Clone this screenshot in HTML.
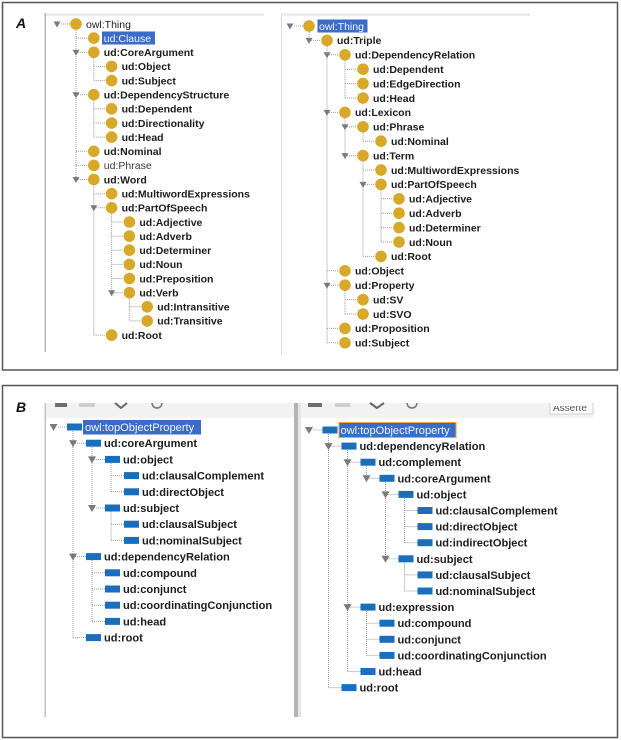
<!DOCTYPE html>
<html><head><meta charset="utf-8"><style>
html,body{margin:0;padding:0;background:#fff;}
svg{display:block;}
.t{font-family:"Liberation Sans",Arial,sans-serif;font-size:10.5px;font-weight:bold;fill:#1c1c1c;}
.n{font-weight:normal;}
.b{font-family:"Liberation Sans",Arial,sans-serif;font-size:11.1px;font-weight:bold;fill:#1c1c1c;}
.w{fill:#f2f5ff;font-weight:normal;}
.dot{fill:none;stroke:#999;stroke-width:1;stroke-dasharray:1 1;}
.c{fill:#d8a82a;}
.r{fill:#1a6fbd;}
.tri{fill:#7a7a7a;}
</style></head><body>
<svg width="621" height="740" viewBox="0 0 621 740" xmlns="http://www.w3.org/2000/svg">
<rect x="0" y="0" width="621" height="740" fill="#fff"/>
<!-- Panel frames -->
<rect x="2.5" y="2.5" width="615" height="367.5" fill="#fff" stroke="#555" stroke-width="1.5"/>
<rect x="2.5" y="385.5" width="615" height="352" fill="#fff" stroke="#555" stroke-width="1.5"/>
<text x="16" y="28" font-family="Liberation Sans,Arial,sans-serif" font-size="14" font-weight="bold" font-style="italic" fill="#111">A</text>
<text x="16" y="412" font-family="Liberation Sans,Arial,sans-serif" font-size="14" font-weight="bold" font-style="italic" fill="#111">B</text>

<!-- Panel A inner chrome -->
<rect x="44.5" y="13" width="1.5" height="339" fill="#b8b8b8"/>
<rect x="46" y="13" width="218" height="3" fill="#ececf0"/>
<rect x="281" y="13" width="1" height="342" fill="#dcdcdc"/>
<rect x="282" y="13" width="248" height="3" fill="#ececf0"/>

<!-- Panel B inner chrome -->
<rect x="44.5" y="403" width="1.5" height="314" fill="#c4c4c4"/>
<rect x="46" y="403" width="248" height="15" fill="#f2f2f2"/>
<rect x="294" y="403" width="4" height="314" fill="#b4b4b4"/>
<rect x="298" y="403" width="3" height="314" fill="#e6e6e6"/>
<rect x="301" y="403" width="292" height="15" fill="#f2f2f2"/>
<clipPath id="cp"><rect x="549" y="403" width="46" height="14"/></clipPath>
<g clip-path="url(#cp)">
<rect x="550" y="396" width="43" height="18" fill="#fff" stroke="#cfcfcf" stroke-width="1"/>
</g>
<clipPath id="cp2"><rect x="550" y="406" width="43" height="8"/></clipPath>
<text x="553" y="411" clip-path="url(#cp2)" font-family="Liberation Sans,Arial,sans-serif" font-size="10" fill="#555">Asserte</text>
<!-- toolbar icons (clipped) -->
<rect x="55" y="403" width="12" height="4" fill="#6e6e6e"/>
<rect x="79" y="403" width="16" height="4" fill="#cfcfcf"/>
<path d="M115 403 L121 408 L127 403" fill="none" stroke="#666" stroke-width="2"/>
<path d="M152 403 A5 5 0 0 0 162 403" fill="none" stroke="#777" stroke-width="1.5"/>
<rect x="308" y="403" width="14" height="4" fill="#6e6e6e"/>
<rect x="335" y="403" width="15" height="4" fill="#cfcfcf"/>
<path d="M370 403 L377 408 L384 403" fill="none" stroke="#666" stroke-width="2"/>
<path d="M407 403 A5 5 0 0 0 417 403" fill="none" stroke="#777" stroke-width="1.5"/>

<!-- ================= A LEFT ================= -->
<path class="dot" d="M76 30V179.5 M93.8 58.3V80.6 M93.8 100.7V137.1 M93.8 185.5V335.1 M111.6 213.8V292.7 M129.4 298.7V320.9
M61 24H70
M76 38.1H87.8 M76 52.3H87.8 M76 94.7H87.8 M76 151.3H87.8 M76 165.4H87.8 M76 179.5H87.8
M93.8 66.4H105.6 M93.8 80.6H105.6 M93.8 108.8H105.6 M93.8 123H105.6 M93.8 137.1H105.6 M93.8 193.7H105.6 M93.8 207.8H105.6 M93.8 335.1H105.6
M111.6 222H123.4 M111.6 236.1H123.4 M111.6 250.2H123.4 M111.6 264.4H123.4 M111.6 278.5H123.4 M111.6 292.7H123.4
M129.4 306.8H141.2 M129.4 320.9H141.2"/>
<g class="tri">
<path d="M53.5 21.5H60.5L57 27.5Z"/>
<path d="M72.5 49.8H79.5L76 55.8Z"/>
<path d="M72.5 92.2H79.5L76 98.2Z"/>
<path d="M72.5 177H79.5L76 183Z"/>
<path d="M90.3 205.3H97.3L93.8 211.3Z"/>
<path d="M108.1 290.2H115.1L111.6 296.2Z"/>
</g>
<g class="c">
<circle cx="76" cy="24" r="5.8"/>
<circle cx="93.8" cy="38.1" r="5.8"/>
<circle cx="93.8" cy="52.3" r="5.8"/>
<circle cx="111.6" cy="66.4" r="5.8"/>
<circle cx="111.6" cy="80.6" r="5.8"/>
<circle cx="93.8" cy="94.7" r="5.8"/>
<circle cx="111.6" cy="108.8" r="5.8"/>
<circle cx="111.6" cy="123" r="5.8"/>
<circle cx="111.6" cy="137.1" r="5.8"/>
<circle cx="93.8" cy="151.3" r="5.8"/>
<circle cx="93.8" cy="165.4" r="5.8"/>
<circle cx="93.8" cy="179.5" r="5.8"/>
<circle cx="111.6" cy="193.7" r="5.8"/>
<circle cx="111.6" cy="207.8" r="5.8"/>
<circle cx="129.4" cy="222" r="5.8"/>
<circle cx="129.4" cy="236.1" r="5.8"/>
<circle cx="129.4" cy="250.2" r="5.8"/>
<circle cx="129.4" cy="264.4" r="5.8"/>
<circle cx="129.4" cy="278.5" r="5.8"/>
<circle cx="129.4" cy="292.7" r="5.8"/>
<circle cx="147.2" cy="306.8" r="5.8"/>
<circle cx="147.2" cy="320.9" r="5.8"/>
<circle cx="111.6" cy="335.1" r="5.8"/>
</g>
<rect x="102" y="31.5" width="53" height="13" fill="#3a6cc8"/>
<text class="t n" x="86" y="27.8">owl:Thing</text>
<text class="t w" x="103.8" y="41.9">ud:Clause</text>
<text class="t" x="103.8" y="56.1">ud:CoreArgument</text>
<text class="t" x="121.6" y="70.2">ud:Object</text>
<text class="t" x="121.6" y="84.4">ud:Subject</text>
<text class="t" x="103.8" y="98.5">ud:DependencyStructure</text>
<text class="t" x="121.6" y="112.6">ud:Dependent</text>
<text class="t" x="121.6" y="126.8">ud:Directionality</text>
<text class="t" x="121.6" y="140.9">ud:Head</text>
<text class="t" x="103.8" y="155.1">ud:Nominal</text>
<text class="t n" x="103.8" y="169.2" style="fill:#3a3a3a">ud:Phrase</text>
<text class="t" x="103.8" y="183.3">ud:Word</text>
<text class="t" x="121.6" y="197.5">ud:MultiwordExpressions</text>
<text class="t" x="121.6" y="211.6">ud:PartOfSpeech</text>
<text class="t" x="139.4" y="225.8">ud:Adjective</text>
<text class="t" x="139.4" y="239.9">ud:Adverb</text>
<text class="t" x="139.4" y="254">ud:Determiner</text>
<text class="t" x="139.4" y="268.2">ud:Noun</text>
<text class="t" x="139.4" y="282.3">ud:Preposition</text>
<text class="t" x="139.4" y="296.5">ud:Verb</text>
<text class="t" x="157.2" y="310.6">ud:Intransitive</text>
<text class="t" x="157.2" y="324.7">ud:Transitive</text>
<text class="t" x="121.6" y="338.9">ud:Root</text>

<!-- ================= A RIGHT ================= -->
<path class="dot" d="M309 32V40.4 M327 46.4V342.8 M345 60.8V98 M345 118.4V155.6 M363 132.8V141.2 M363 161.6V256.4 M381 190.4V242 M345 291.2V314
M294 26H303
M309 40.4H321
M327 54.8H339 M327 112.4H339 M327 270.8H339 M327 285.2H339 M327 328.4H339 M327 342.8H339
M345 69.2H357 M345 83.6H357 M345 98H357 M345 126.8H357 M345 155.6H357 M345 299.6H357 M345 314H357
M363 141.2H375 M363 170H375 M363 184.4H375 M363 256.4H375
M381 198.8H393 M381 213.2H393 M381 227.6H393 M381 242H393"/>
<g class="tri">
<path d="M286.5 23.5H293.5L290 29.5Z"/>
<path d="M305.5 37.9H312.5L309 43.9Z"/>
<path d="M323.5 52.3H330.5L327 58.3Z"/>
<path d="M323.5 109.9H330.5L327 115.9Z"/>
<path d="M341.5 124.3H348.5L345 130.3Z"/>
<path d="M341.5 153.1H348.5L345 159.1Z"/>
<path d="M359.5 181.9H366.5L363 187.9Z"/>
<path d="M323.5 282.7H330.5L327 288.7Z"/>
</g>
<g class="c">
<circle cx="309" cy="26" r="5.8"/>
<circle cx="327" cy="40.4" r="5.8"/>
<circle cx="345" cy="54.8" r="5.8"/>
<circle cx="363" cy="69.2" r="5.8"/>
<circle cx="363" cy="83.6" r="5.8"/>
<circle cx="363" cy="98" r="5.8"/>
<circle cx="345" cy="112.4" r="5.8"/>
<circle cx="363" cy="126.8" r="5.8"/>
<circle cx="381" cy="141.2" r="5.8"/>
<circle cx="363" cy="155.6" r="5.8"/>
<circle cx="381" cy="170" r="5.8"/>
<circle cx="381" cy="184.4" r="5.8"/>
<circle cx="399" cy="198.8" r="5.8"/>
<circle cx="399" cy="213.2" r="5.8"/>
<circle cx="399" cy="227.6" r="5.8"/>
<circle cx="399" cy="242" r="5.8"/>
<circle cx="381" cy="256.4" r="5.8"/>
<circle cx="345" cy="270.8" r="5.8"/>
<circle cx="345" cy="285.2" r="5.8"/>
<circle cx="363" cy="299.6" r="5.8"/>
<circle cx="363" cy="314" r="5.8"/>
<circle cx="345" cy="328.4" r="5.8"/>
<circle cx="345" cy="342.8" r="5.8"/>
</g>
<rect x="317.5" y="19.5" width="50" height="13" fill="#3a6cc8"/>
<text class="t w" x="319" y="29.8">owl:Thing</text>
<text class="t" x="337" y="44.2">ud:Triple</text>
<text class="t" x="355" y="58.6">ud:DependencyRelation</text>
<text class="t" x="373" y="73">ud:Dependent</text>
<text class="t" x="373" y="87.4">ud:EdgeDirection</text>
<text class="t" x="373" y="101.8">ud:Head</text>
<text class="t" x="355" y="116.2">ud:Lexicon</text>
<text class="t" x="373" y="130.6">ud:Phrase</text>
<text class="t" x="391" y="145">ud:Nominal</text>
<text class="t" x="373" y="159.4">ud:Term</text>
<text class="t" x="391" y="173.8">ud:MultiwordExpressions</text>
<text class="t" x="391" y="188.2">ud:PartOfSpeech</text>
<text class="t" x="409" y="202.6">ud:Adjective</text>
<text class="t" x="409" y="217">ud:Adverb</text>
<text class="t" x="409" y="231.4">ud:Determiner</text>
<text class="t" x="409" y="245.8">ud:Noun</text>
<text class="t" x="391" y="260.2">ud:Root</text>
<text class="t" x="355" y="274.6">ud:Object</text>
<text class="t" x="355" y="289">ud:Property</text>
<text class="t" x="373" y="303.4">ud:SV</text>
<text class="t" x="373" y="317.8">ud:SVO</text>
<text class="t" x="355" y="332.2">ud:Proposition</text>
<text class="t" x="355" y="346.6">ud:Subject</text>

<!-- ================= B LEFT ================= -->
<path class="dot" d="M73 431V637.6 M92 447V508 M111 463V491.8 M111 511.5V540.4 M92 560V621.4
M58 427H67
M73 443.2H86 M73 556.6H86 M73 637.6H86
M92 459.4H105 M92 508H105 M92 572.8H105 M92 589H105 M92 605.2H105 M92 621.4H105
M111 475.6H124 M111 491.8H124 M111 524.2H124 M111 540.4H124"/>
<g class="tri">
<path d="M49.5 424H57.5L53.5 431Z"/>
<path d="M69 440.2H77L73 447.2Z"/>
<path d="M88 456.4H96L92 463.4Z"/>
<path d="M88 505H96L92 512Z"/>
<path d="M69 553.6H77L73 560.6Z"/>
</g>
<g class="r">
<rect x="67" y="423.5" width="15" height="7"/>
<rect x="86" y="439.7" width="15" height="7"/>
<rect x="105" y="455.9" width="15" height="7"/>
<rect x="124" y="472.1" width="15" height="7"/>
<rect x="124" y="488.3" width="15" height="7"/>
<rect x="105" y="504.5" width="15" height="7"/>
<rect x="124" y="520.7" width="15" height="7"/>
<rect x="124" y="536.9" width="15" height="7"/>
<rect x="86" y="553.1" width="15" height="7"/>
<rect x="105" y="569.3" width="15" height="7"/>
<rect x="105" y="585.5" width="15" height="7"/>
<rect x="105" y="601.7" width="15" height="7"/>
<rect x="105" y="617.9" width="15" height="7"/>
<rect x="86" y="634.1" width="15" height="7"/>
</g>
<rect x="83" y="420" width="118" height="14.5" fill="#3a6cc8"/>
<text class="b w" x="85" y="431">owl:topObjectProperty</text>
<text class="b" x="104" y="447.2">ud:coreArgument</text>
<text class="b" x="123" y="463.4">ud:object</text>
<text class="b" x="142" y="479.6">ud:clausalComplement</text>
<text class="b" x="142" y="495.8">ud:directObject</text>
<text class="b" x="123" y="512">ud:subject</text>
<text class="b" x="142" y="528.2">ud:clausalSubject</text>
<text class="b" x="142" y="544.4">ud:nominalSubject</text>
<text class="b" x="104" y="560.6">ud:dependencyRelation</text>
<text class="b" x="123" y="576.8">ud:compound</text>
<text class="b" x="123" y="593">ud:conjunct</text>
<text class="b" x="123" y="609.2">ud:coordinatingConjunction</text>
<text class="b" x="123" y="625.4">ud:head</text>
<text class="b" x="104" y="641.6">ud:root</text>

<!-- ================= B RIGHT ================= -->
<path class="dot" d="M328.5 434V687.6 M347.5 450V671.5 M366.5 466V478.3 M385.5 482V558.8 M404.5 498V542.7 M404.5 562.5V591 M366.5 611V655.4
M313.5 430H322.5
M328.5 446.1H341.5 M328.5 687.6H341.5
M347.5 462.2H360.5 M347.5 607.1H360.5 M347.5 671.5H360.5
M366.5 478.3H379.5 M366.5 623.2H379.5 M366.5 639.3H379.5 M366.5 655.4H379.5
M385.5 494.4H398.5 M385.5 558.8H398.5
M404.5 510.5H417.5 M404.5 526.6H417.5 M404.5 542.7H417.5 M404.5 574.9H417.5 M404.5 591H417.5"/>
<g class="tri">
<path d="M305 427H313L309 434Z"/>
<path d="M324.5 443.1H332.5L328.5 450.1Z"/>
<path d="M343.5 459.2H351.5L347.5 466.2Z"/>
<path d="M362.5 475.3H370.5L366.5 482.3Z"/>
<path d="M381.5 491.4H389.5L385.5 498.4Z"/>
<path d="M381.5 555.8H389.5L385.5 562.8Z"/>
<path d="M343.5 604.1H351.5L347.5 611.1Z"/>
</g>
<g class="r">
<rect x="322.5" y="426.5" width="15" height="7"/>
<rect x="341.5" y="442.6" width="15" height="7"/>
<rect x="360.5" y="458.7" width="15" height="7"/>
<rect x="379.5" y="474.8" width="15" height="7"/>
<rect x="398.5" y="490.9" width="15" height="7"/>
<rect x="417.5" y="507" width="15" height="7"/>
<rect x="417.5" y="523.1" width="15" height="7"/>
<rect x="417.5" y="539.2" width="15" height="7"/>
<rect x="398.5" y="555.3" width="15" height="7"/>
<rect x="417.5" y="571.4" width="15" height="7"/>
<rect x="417.5" y="587.5" width="15" height="7"/>
<rect x="360.5" y="603.6" width="15" height="7"/>
<rect x="379.5" y="619.7" width="15" height="7"/>
<rect x="379.5" y="635.8" width="15" height="7"/>
<rect x="379.5" y="651.9" width="15" height="7"/>
<rect x="360.5" y="668" width="15" height="7"/>
<rect x="341.5" y="684.1" width="15" height="7"/>
</g>
<rect x="339" y="422.5" width="117" height="15" fill="#3a6cc8" stroke="#e8a33a" stroke-width="1"/>
<text class="b w" x="340.5" y="434">owl:topObjectProperty</text>
<text class="b" x="359.5" y="450.1">ud:dependencyRelation</text>
<text class="b" x="378.5" y="466.2">ud:complement</text>
<text class="b" x="397.5" y="482.3">ud:coreArgument</text>
<text class="b" x="416.5" y="498.4">ud:object</text>
<text class="b" x="435.5" y="514.5">ud:clausalComplement</text>
<text class="b" x="435.5" y="530.6">ud:directObject</text>
<text class="b" x="435.5" y="546.7">ud:indirectObject</text>
<text class="b" x="416.5" y="562.8">ud:subject</text>
<text class="b" x="435.5" y="578.9">ud:clausalSubject</text>
<text class="b" x="435.5" y="595">ud:nominalSubject</text>
<text class="b" x="378.5" y="611.1">ud:expression</text>
<text class="b" x="397.5" y="627.2">ud:compound</text>
<text class="b" x="397.5" y="643.3">ud:conjunct</text>
<text class="b" x="397.5" y="659.4">ud:coordinatingConjunction</text>
<text class="b" x="378.5" y="675.5">ud:head</text>
<text class="b" x="359.5" y="691.6">ud:root</text>
</svg>
</body></html>
